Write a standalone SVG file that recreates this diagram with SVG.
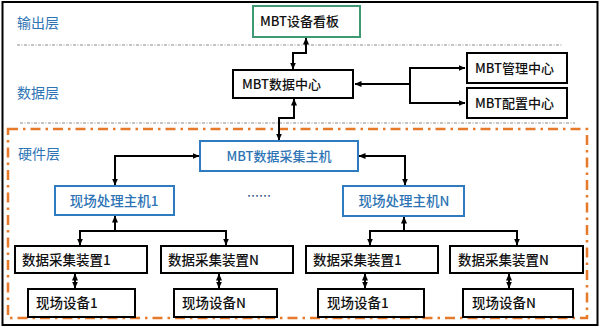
<svg xmlns="http://www.w3.org/2000/svg" width="600" height="328" viewBox="0 0 600 328">
<defs>
<marker id="ah" viewBox="0 0 7 6" refX="6.5" refY="3" markerWidth="7" markerHeight="6" markerUnits="userSpaceOnUse" orient="auto-start-reverse">
<path d="M0,0 L7,3 L0,6 z" fill="#000"/>
</marker>
<style>
.t{font-family:"Noto Sans CJK SC","Liberation Sans",sans-serif;font-size:13.5px;font-weight:500;fill:#111}
.m{font-size:13px}
.b{fill:#2e74b5}
.lay{font-family:"Noto Sans CJK SC","Liberation Sans",sans-serif;font-size:14px;fill:#2e74b5}
.bk{fill:#fff;stroke:#000;stroke-width:2}
.bl{fill:#fff;stroke:#2e7bbf;stroke-width:2}
.gr{fill:#fff;stroke:#3d9a72;stroke-width:2}
.c{fill:none;stroke:#000;stroke-width:2}
.a2{marker-start:url(#ah);marker-end:url(#ah)}
.as{marker-start:url(#ah)}
.dl{stroke:#8a8a8a;stroke-width:1;stroke-dasharray:3 1.5 1 1.5;fill:none}
</style>
</defs>
<rect x="0" y="0" width="600" height="328" fill="#fff"/>
<rect x="2.5" y="2" width="595" height="323" fill="none" stroke="#000" stroke-width="2"/>

<g id="layers">
<line class="dl" x1="17" y1="45" x2="562" y2="45"/>
<line class="dl" x1="20" y1="123" x2="575" y2="123"/>
<rect x="8" y="129" width="579" height="189" fill="none" stroke="#e67a2a" stroke-width="2.5" stroke-dasharray="10 5 2.5 5"/>
<text class="lay" x="17" y="28">输出层</text>
<text class="lay" x="17" y="98">数据层</text>
<text class="lay" x="18" y="159">硬件层</text>
<text class="t" x="247" y="201" style="fill:#1f4e79;font-size:12px">……</text>
</g>

<g id="connectors">
<path class="c a2" d="M306,38 V53 H293 V69"/>
<path class="c a2" d="M294,99 V118 H279 V140"/>
<path class="c as" d="M355,84 H410"/>
<path class="c a2" d="M465,68 H410 V103 H465"/>
<path class="c a2" d="M199,156 H115 V185"/>
<path class="c a2" d="M359,156 H405 V185"/>
<path class="c as" d="M115,216 V231"/>
<path class="c a2" d="M80,245 V231 H226 V245"/>
<path class="c as" d="M404,217 V231"/>
<path class="c a2" d="M370,245 V231 H517 V245"/>
<path class="c a2" d="M75,274 V288"/>
<path class="c a2" d="M219,274 V288"/>
<path class="c a2" d="M365,274 V288"/>
<path class="c a2" d="M509,274 V288"/>
</g>

<g id="n-kanban"><rect class="gr" x="253" y="6" width="107" height="31"/><text class="t m" x="260" y="26">MBT设备看板</text></g>
<g id="n-datacenter"><rect class="bk" x="233" y="70" width="120" height="28"/><text class="t m" x="242" y="88.5">MBT数据中心</text></g>
<g id="n-mgmt"><rect class="bk" x="467" y="53" width="100" height="30"/><text class="t m" x="475" y="72.5">MBT管理中心</text></g>
<g id="n-config"><rect class="bk" x="467" y="88" width="100" height="30"/><text class="t m" x="475" y="107.5">MBT配置中心</text></g>
<g id="n-collector"><rect class="bl" x="200" y="141" width="158" height="30"/><text class="t m b" x="279" y="160.5" text-anchor="middle">MBT数据采集主机</text></g>
<g id="n-host1"><rect class="bl" x="55" y="186" width="119" height="29"/><text class="t b" x="114" y="205.5" text-anchor="middle">现场处理主机1</text></g>
<g id="n-hostN"><rect class="bl" x="343" y="186" width="121" height="30"/><text class="t b" x="404" y="206" text-anchor="middle">现场处理主机N</text></g>
<g id="n-dev11"><rect class="bk" x="15" y="246" width="132" height="27"/><text class="t" x="22" y="264.5">数据采集装置1</text></g>
<g id="n-dev1N"><rect class="bk" x="161" y="246" width="132" height="27"/><text class="t" x="168" y="264.5">数据采集装置N</text></g>
<g id="n-eq11"><rect class="bk" x="28" y="289" width="107" height="28"/><text class="t" x="36" y="307.5">现场设备1</text></g>
<g id="n-eq1N"><rect class="bk" x="174" y="289" width="103" height="28"/><text class="t" x="182" y="307.5">现场设备N</text></g>
<g id="n-devN1"><rect class="bk" x="306" y="246" width="132" height="27"/><text class="t" x="313" y="264.5">数据采集装置1</text></g>
<g id="n-devNN"><rect class="bk" x="450" y="246" width="133" height="27"/><text class="t" x="458" y="264.5">数据采集装置N</text></g>
<g id="n-eqN1"><rect class="bk" x="318" y="289" width="106" height="28"/><text class="t" x="327" y="307.5">现场设备1</text></g>
<g id="n-eqNN"><rect class="bk" x="463" y="289" width="110" height="28"/><text class="t" x="472" y="307.5">现场设备N</text></g>
</svg>
